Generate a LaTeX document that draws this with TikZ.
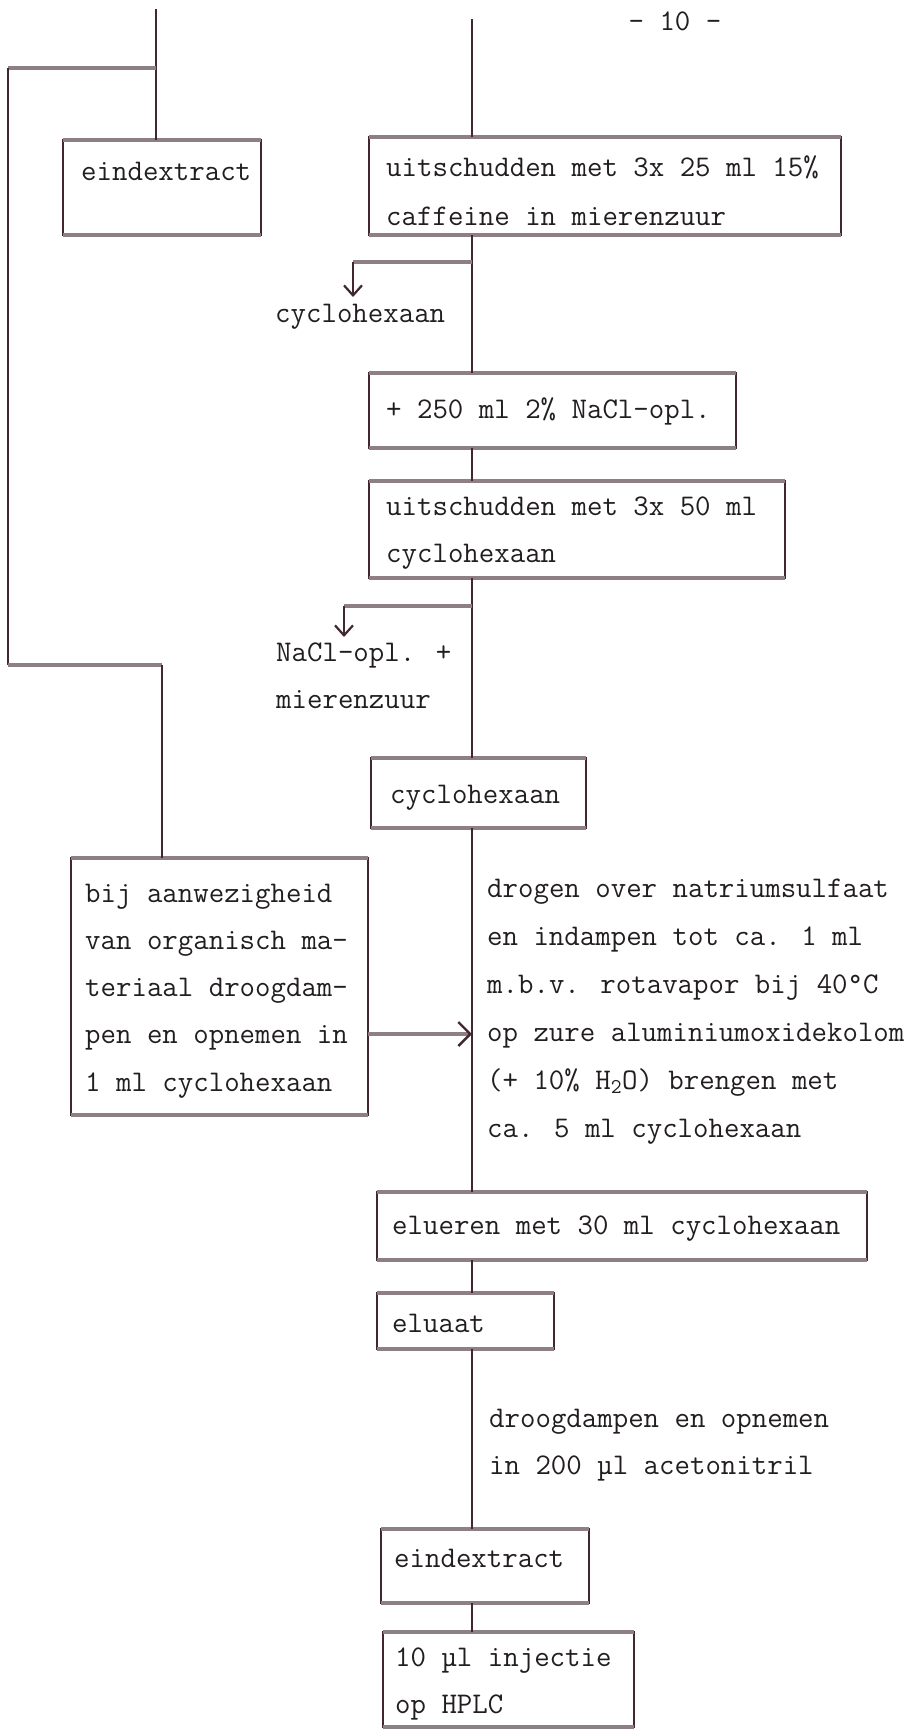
\documentclass[tikz,border=0pt]{standalone}
\usepackage{fontspec}
\usetikzlibrary{arrows.meta}
\definecolor{lineDark}{RGB}{66,38,48}
\definecolor{lineGrey}{RGB}{142,126,134}
\definecolor{ink}{RGB}{34,30,32}
\begin{document}
\begin{tikzpicture}[x=1pt,y=-1pt,
  vl/.style={draw=lineDark,line width=2pt},
  hl/.style={draw=lineGrey,line width=3.2pt},
  box/.style={rectangle,draw=lineDark,line width=2pt,inner sep=0pt,outer sep=0pt,anchor=north west},
  txt/.style={font=\ttfamily\fontsize{30}{36}\selectfont\addfontfeatures{FakeBold=0.6},text=ink,inner sep=0pt,anchor=base west},
  barb/.style={-{Straight Barb[length=10pt,width=18pt,line width=2.2pt,color=lineDark]}}
]
\useasboundingbox (0,0) rectangle (920,1730);

% boxes
\node[box,minimum width=198pt,minimum height=95pt] (e1) at (63,140) {};
\node[box,minimum width=472pt,minimum height=98pt] (b1) at (369,137) {};
\node[box,minimum width=367pt,minimum height=75pt] (b2) at (369,373) {};
\node[box,minimum width=416pt,minimum height=97pt] (b3) at (369,481) {};
\node[box,minimum width=215pt,minimum height=70pt] (b4) at (371,758) {};
\node[box,minimum width=297pt,minimum height=257pt] (b5) at (71,858) {};
\node[box,minimum width=490pt,minimum height=68pt] (b6) at (377,1192) {};
\node[box,minimum width=177pt,minimum height=56pt] (b7) at (377,1293) {};
\node[box,minimum width=208pt,minimum height=74pt] (b8) at (381,1529) {};
\node[box,minimum width=251pt,minimum height=95pt] (b9) at (383,1632) {};
\foreach \b in {e1,b1,b2,b3,b4,b5,b6,b7,b8,b9}{
  \draw[hl] (\b.north west) -- (\b.north east) (\b.south west) -- (\b.south east);
}

% texts
\node[txt,anchor=base] (pg) at (675,30) {- 10 -};
\node[txt] (e1t) at (81,180) {eindextract};
\node[txt] (b1a) at (386,176) {uitschudden met 3x 25 ml 15\%};
\node[txt] (b1b) at (386,225) {caffeine in mierenzuur};
\node[txt] (c1) at (275,322) {cyclohexaan};
\node[txt] (b2t) at (386,418) {+ 250 ml 2\% NaCl-opl.};
\node[txt] (b3a) at (386,515) {uitschudden met 3x 50 ml};
\node[txt] (b3b) at (386,562) {cyclohexaan};
\node[txt] (n1a) at (276,661) {NaCl-opl. +};
\node[txt] (n1b) at (276,708) {mierenzuur};
\node[txt] (b4t) at (390,803) {cyclohexaan};
\node[txt] (b5a) at (85,902) {bij aanwezigheid};
\node[txt] (b5b) at (85,949) {van organisch ma-};
\node[txt] (b5c) at (85,996) {teriaal droogdam-};
\node[txt] (b5d) at (85,1043) {pen en opnemen in};
\node[txt] (b5e) at (85,1091) {1 ml cyclohexaan};
\node[txt] (ra) at (487,897) {drogen over natriumsulfaat};
\node[txt] (rb) at (487,945) {en indampen tot ca. 1 ml};
\node[txt] (rc) at (487,993) {m.b.v. rotavapor bij 40°C};
\node[txt] (rd) at (487,1041) {op zure aluminiumoxidekolom};
\node[txt] (re) at (487,1089) {(+ 10\% H\textsubscript{2}O) brengen met};
\node[txt] (rf) at (487,1137) {ca. 5 ml cyclohexaan};
\node[txt] (b6t) at (392,1234) {elueren met 30 ml cyclohexaan};
\node[txt] (b7t) at (392,1332) {eluaat};
\node[txt] (da) at (489,1427) {droogdampen en opnemen};
\node[txt] (db) at (489,1474) {in 200 µl acetonitril};
\node[txt] (b8t) at (394,1567) {eindextract};
\node[txt] (b9a) at (395,1666) {10 µl injectie};
\node[txt] (b9b) at (395,1713) {op HPLC};

% left branch
\coordinate (tl) at (156,9);
\coordinate (fl) at (8,68);
\coordinate (fb) at (8,665);
\coordinate (lc) at (162,665);
\draw[vl] (tl) -- (tl |- e1.north);
\draw[hl] (tl |- fl) -- (fl);
\draw[vl] (fl) -- (fb);
\draw[hl] (fb) -- (lc);
\draw[vl] (lc) -- (lc |- b5.north);

% main line
\coordinate (mt) at (472,19);
\draw[vl] (mt) -- (mt |- b1.north);
\draw[vl] (mt |- b1.south) -- (mt |- b2.north);
\coordinate (k1) at (353,262);
\coordinate (k1e) at (353,297);
\draw[hl] (mt |- k1) -- (k1);
\draw[vl,barb] (k1) -- (k1e);
\draw[vl] (mt |- b2.south) -- (mt |- b3.north);
\draw[vl] (mt |- b3.south) -- (mt |- b4.north);
\coordinate (k2) at (344,606);
\coordinate (k2e) at (344,637);
\draw[hl] (mt |- k2) -- (k2);
\draw[vl,barb] (k2) -- (k2e);
\draw[vl] (mt |- b4.south) -- (mt |- b6.north);
\coordinate (ay) at (0,1034);
\draw[hl,-{Straight Barb[length=12pt,width=24pt,line width=2.4pt,color=lineDark]}] (b5.east |- ay) -- (mt |- ay);
\draw[vl] (mt |- b6.south) -- (mt |- b7.north);
\draw[vl] (mt |- b7.south) -- (mt |- b8.north);
\draw[vl] (mt |- b8.south) -- (mt |- b9.north);
\end{tikzpicture}
\end{document}
